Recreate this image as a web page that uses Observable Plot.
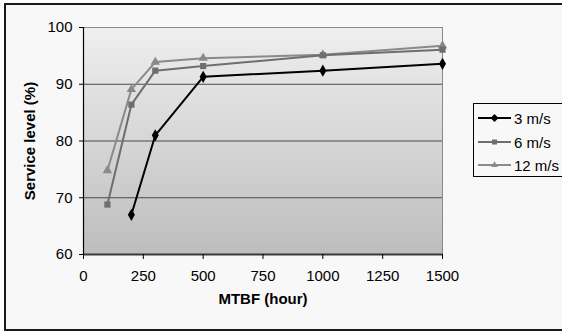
<!DOCTYPE html>
<html>
<head>
<meta charset="utf-8">
<script src="https://cdn.jsdelivr.net/npm/d3@7"></script>
<script src="https://cdn.jsdelivr.net/npm/@observablehq/plot@0.6"></script>
<style>
  html, body { margin: 0; padding: 0; background: #ffffff; }
  #wrap { position: relative; width: 562px; height: 331px; overflow: hidden; font-family: "Liberation Sans", Arial, sans-serif; }
  #border { position: absolute; left: 4px; top: 3px; width: 600px; height: 324px; border: 2px solid #1a1a1a; border-right: none; background: #f8f8f8; box-sizing: content-box; }
  #chart { position: absolute; left: 0; top: 0; }
  #legend { position: absolute; left: 473px; top: 103px; width: 120px; height: 74px; border: 1px solid #000; background: #f8f8f8; box-sizing: border-box; font-size: 15px; color: #000; }
  .item { position: absolute; left: 4px; height: 18px; display: flex; align-items: center; }
  .item svg { display: block; }
  .item span { margin-left: 2px; }
</style>
</head>
<body>
<div id="wrap">
  <div id="border"></div>
  <div id="chart"></div>
  <div id="legend"></div>
</div>
<script>
const seriesNames = ["3 m/s", "6 m/s", "12 m/s"];
const mtbf3 = [200, 300, 500, 1000, 1500];
const level3 = [67.0, 81.0, 91.3, 92.4, 93.6];
const mtbf6 = [100, 200, 300, 500, 1000, 1500];
const level6 = [68.8, 86.4, 92.4, 93.2, 95.1, 96.1];
const mtbf12 = [100, 200, 300, 500, 1000, 1500];
const level12 = [74.8, 89.1, 93.9, 94.6, 95.2, 96.8];
const xTicks = [0, 250, 500, 750, 1000, 1250, 1500];
const yTicks = [60, 70, 80, 90, 100];
const gridValues = [70, 80, 90];

const colors = {"3 m/s": "#000000", "6 m/s": "#6e6e6e", "12 m/s": "#8a8a8a"};
const symbols = {"3 m/s": "diamond", "6 m/s": "square", "12 m/s": "triangle"};
const radii = {"3 m/s": 3.7, "6 m/s": 3.5, "12 m/s": 3.5};

const rows = [];
mtbf3.forEach((x, i) => rows.push({series: "3 m/s", x, y: level3[i]}));
mtbf6.forEach((x, i) => rows.push({series: "6 m/s", x, y: level6[i]}));
mtbf12.forEach((x, i) => rows.push({series: "12 m/s", x, y: level12[i]}));
const drawOrder = ["12 m/s", "6 m/s", "3 m/s"];

const marks = [
  Plot.frame({fill: "url(#bggrad)", stroke: "#8a8a8a", strokeWidth: 1}),
  Plot.ruleY(gridValues, {stroke: "#4a4a4a", strokeWidth: 1}),
  Plot.ruleY([60], {stroke: "#3a3a3a", strokeWidth: 2}),
  Plot.ruleX([0], {stroke: "#000", strokeWidth: 1.2}),
  Plot.axisY({ticks: yTicks, tickSize: 4, tickPadding: 7, label: null, fontSize: 15}),
  Plot.axisX({ticks: xTicks, tickSize: 5, tickPadding: 11, label: null, fontSize: 15, tickFormat: d => String(d)}),
  Plot.text(["MTBF (hour)"], {frameAnchor: "bottom", dy: 49, fontWeight: "bold", fontSize: 15}),
  Plot.text(["Service level (%)"], {frameAnchor: "left", textAnchor: "middle", dx: -53, rotate: -90, fontWeight: "bold", fontSize: 15})
];
for (const s of drawOrder) {
  const d = rows.filter(r => r.series === s);
  marks.push(Plot.line(d, {x: "x", y: "y", stroke: colors[s], strokeWidth: 2}));
  marks.push(Plot.dot(d, {x: "x", y: "y", symbol: () => symbols[s], fill: colors[s], stroke: "none", r: radii[s]}));
}

const chart = Plot.plot({
  width: 562,
  height: 331,
  marginLeft: 83,
  marginRight: 120,
  marginTop: 27,
  marginBottom: 77,
  style: {background: "transparent", fontFamily: "Liberation Sans, Arial, sans-serif", fontSize: "15px", color: "#000", overflow: "visible"},
  x: {domain: [0, 1500]},
  y: {domain: [60, 100]},
  symbol: {type: "identity"},
  marks
});

const svg = d3.select(chart);
const defs = svg.insert("defs", ":first-child");
const grad = defs.append("linearGradient").attr("id", "bggrad").attr("x1", 0).attr("y1", 0).attr("x2", 0).attr("y2", 1);
grad.append("stop").attr("offset", "0%").attr("stop-color", "#efefef");
grad.append("stop").attr("offset", "100%").attr("stop-color", "#bdbdbd");
document.getElementById("chart").appendChild(chart);

// Legend
const legend = document.getElementById("legend");
const legendTops = [5, 29, 52];
seriesNames.forEach((s, i) => {
  const item = document.createElement("div");
  item.className = "item";
  item.style.top = legendTops[i] + "px";
  const sw = d3.create("svg").attr("width", 34).attr("height", 16);
  sw.append("line").attr("x1", 0).attr("x2", 33).attr("y1", 8).attr("y2", 8).attr("stroke", colors[s]).attr("stroke-width", 2);
  const sym = d3.symbol().type(s === "3 m/s" ? d3.symbolDiamond2 : s === "6 m/s" ? d3.symbolSquare2 : d3.symbolTriangle2).size(s === "3 m/s" ? 40 : 32);
  sw.append("path").attr("d", sym()).attr("transform", "translate(16.5,8)").attr("fill", colors[s]);
  item.appendChild(sw.node());
  const t = document.createElement("span");
  t.textContent = s;
  item.appendChild(t);
  legend.appendChild(item);
});
</script>
</body>
</html>
